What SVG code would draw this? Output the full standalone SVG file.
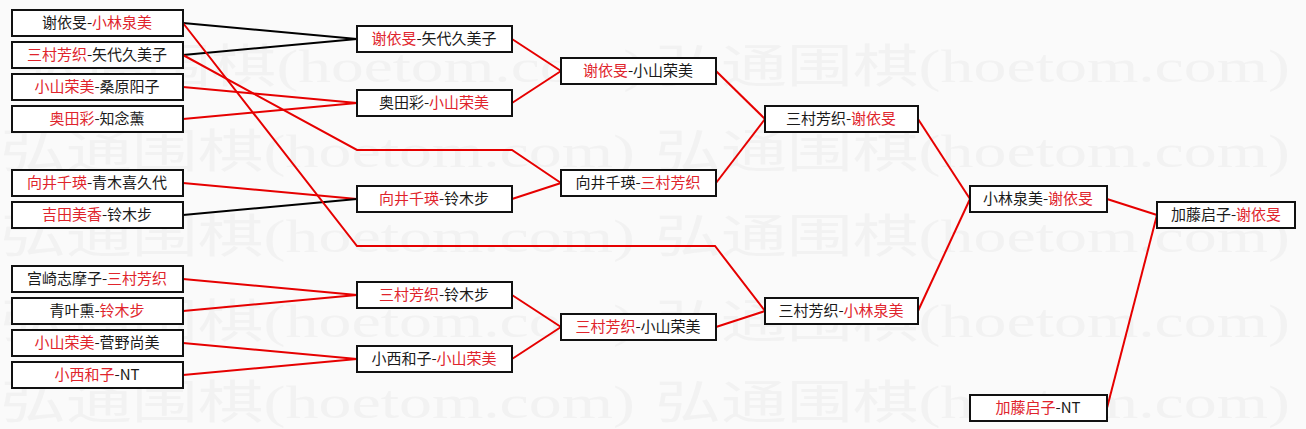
<svg xmlns="http://www.w3.org/2000/svg" width="1306" height="429" viewBox="0 0 1306 429">
<style>
.bg{fill:#fafafa}
.wm{fill:#f2f2f2;font-family:"Liberation Serif","Noto Sans CJK SC",serif;font-size:46px}
.box{fill:#ffffff;stroke:#111111;stroke-width:2}
.t{font-family:"Noto Sans CJK SC","Noto Sans CJK JP",sans-serif;font-size:15px;fill:#1a1a1a;text-anchor:middle}
.r{fill:#e0242c}
.lr{fill:none;stroke:#e60000;stroke-width:2}
.lb{fill:none;stroke:#000000;stroke-width:2}
</style>
<rect class="bg" x="0" y="0" width="1306" height="429"/>
<g id="watermark">
<text class="wm" x="15" y="82" textLength="630" lengthAdjust="spacingAndGlyphs">弘通围棋(hoetom.com)</text>
<text class="wm" x="655" y="82" textLength="635" lengthAdjust="spacingAndGlyphs">弘通围棋(hoetom.com)</text>
<text class="wm" x="0" y="167" textLength="635" lengthAdjust="spacingAndGlyphs">弘通围棋(hoetom.com)</text>
<text class="wm" x="655" y="167" textLength="635" lengthAdjust="spacingAndGlyphs">弘通围棋(hoetom.com)</text>
<text class="wm" x="0" y="252" textLength="635" lengthAdjust="spacingAndGlyphs">弘通围棋(hoetom.com)</text>
<text class="wm" x="655" y="252" textLength="635" lengthAdjust="spacingAndGlyphs">弘通围棋(hoetom.com)</text>
<text class="wm" x="0" y="337" textLength="635" lengthAdjust="spacingAndGlyphs">弘通围棋(hoetom.com)</text>
<text class="wm" x="655" y="337" textLength="635" lengthAdjust="spacingAndGlyphs">弘通围棋(hoetom.com)</text>
<text class="wm" x="0" y="418" textLength="635" lengthAdjust="spacingAndGlyphs">弘通围棋(hoetom.com)</text>
<text class="wm" x="655" y="418" textLength="635" lengthAdjust="spacingAndGlyphs">弘通围棋(hoetom.com)</text>
</g>
<g id="connectors">
<polyline class="lb" points="183,23 357,39"/>
<polyline class="lb" points="183,55 357,39"/>
<polyline class="lr" points="183,87 357,103"/>
<polyline class="lr" points="183,119 357,103"/>
<polyline class="lr" points="183,183 357,199"/>
<polyline class="lb" points="183,215 357,199"/>
<polyline class="lr" points="183,279 357,295"/>
<polyline class="lr" points="183,311 357,295"/>
<polyline class="lr" points="183,343 357,359"/>
<polyline class="lr" points="183,375 357,359"/>
<polyline class="lr" points="183,23 357,246 715,246 765,311"/>
<polyline class="lr" points="183,55 357,150 512,150 561,183"/>
<polyline class="lr" points="512,39 561,71"/>
<polyline class="lr" points="512,103 561,71"/>
<polyline class="lr" points="512,199 561,183"/>
<polyline class="lr" points="512,295 561,327"/>
<polyline class="lr" points="512,359 561,327"/>
<polyline class="lr" points="716,71 765,119"/>
<polyline class="lr" points="716,183 765,119"/>
<polyline class="lr" points="716,327 765,311"/>
<polyline class="lr" points="918,119 970,199"/>
<polyline class="lr" points="918,311 970,199"/>
<polyline class="lr" points="1107,199 1157,215"/>
<polyline class="lr" points="1107,408 1157,215"/>
</g>
<g id="n1"><rect class="box" x="12" y="10" width="171" height="26"/><text class="t" x="97" y="28">谢依旻-<tspan class="r">小林泉美</tspan></text></g>
<g id="n2"><rect class="box" x="12" y="42" width="171" height="26"/><text class="t" x="97" y="60"><tspan class="r">三村芳织</tspan>-矢代久美子</text></g>
<g id="n3"><rect class="box" x="12" y="74" width="171" height="26"/><text class="t" x="97" y="92"><tspan class="r">小山荣美</tspan>-桑原阳子</text></g>
<g id="n4"><rect class="box" x="12" y="106" width="171" height="26"/><text class="t" x="97" y="124"><tspan class="r">奥田彩</tspan>-知念薰</text></g>
<g id="n5"><rect class="box" x="12" y="170" width="171" height="26"/><text class="t" x="97" y="188"><tspan class="r">向井千瑛</tspan>-青木喜久代</text></g>
<g id="n6"><rect class="box" x="12" y="202" width="171" height="26"/><text class="t" x="97" y="220"><tspan class="r">吉田美香</tspan>-铃木步</text></g>
<g id="n7"><rect class="box" x="12" y="266" width="171" height="26"/><text class="t" x="97" y="284">宫崎志摩子-<tspan class="r">三村芳织</tspan></text></g>
<g id="n8"><rect class="box" x="12" y="298" width="171" height="26"/><text class="t" x="97" y="316">青叶熏-<tspan class="r">铃木步</tspan></text></g>
<g id="n9"><rect class="box" x="12" y="330" width="171" height="26"/><text class="t" x="97" y="348"><tspan class="r">小山荣美</tspan>-菅野尚美</text></g>
<g id="n10"><rect class="box" x="12" y="362" width="171" height="26"/><text class="t" x="97" y="380"><tspan class="r">小西和子</tspan>-NT</text></g>
<g id="m1"><rect class="box" x="357" y="26" width="155" height="26"/><text class="t" x="434" y="44"><tspan class="r">谢依旻</tspan>-矢代久美子</text></g>
<g id="m2"><rect class="box" x="357" y="90" width="155" height="26"/><text class="t" x="434" y="108">奥田彩-<tspan class="r">小山荣美</tspan></text></g>
<g id="m3"><rect class="box" x="357" y="186" width="155" height="26"/><text class="t" x="434" y="204"><tspan class="r">向井千瑛</tspan>-铃木步</text></g>
<g id="m4"><rect class="box" x="357" y="282" width="155" height="26"/><text class="t" x="434" y="300"><tspan class="r">三村芳织</tspan>-铃木步</text></g>
<g id="m5"><rect class="box" x="357" y="346" width="155" height="26"/><text class="t" x="434" y="364">小西和子-<tspan class="r">小山荣美</tspan></text></g>
<g id="q1"><rect class="box" x="561" y="58" width="155" height="26"/><text class="t" x="638" y="76"><tspan class="r">谢依旻</tspan>-小山荣美</text></g>
<g id="q2"><rect class="box" x="561" y="170" width="155" height="26"/><text class="t" x="638" y="188">向井千瑛-<tspan class="r">三村芳织</tspan></text></g>
<g id="q3"><rect class="box" x="561" y="314" width="155" height="26"/><text class="t" x="638" y="332"><tspan class="r">三村芳织</tspan>-小山荣美</text></g>
<g id="s1"><rect class="box" x="765" y="106" width="153" height="26"/><text class="t" x="841" y="124">三村芳织-<tspan class="r">谢依旻</tspan></text></g>
<g id="s2"><rect class="box" x="765" y="298" width="153" height="26"/><text class="t" x="841" y="316">三村芳织-<tspan class="r">小林泉美</tspan></text></g>
<g id="f1"><rect class="box" x="970" y="186" width="137" height="26"/><text class="t" x="1038" y="204">小林泉美-<tspan class="r">谢依旻</tspan></text></g>
<g id="f2"><rect class="box" x="970" y="395" width="137" height="26"/><text class="t" x="1038" y="413"><tspan class="r">加藤启子</tspan>-NT</text></g>
<g id="w1"><rect class="box" x="1157" y="202" width="138" height="26"/><text class="t" x="1226" y="220">加藤启子-<tspan class="r">谢依旻</tspan></text></g>
</svg>
